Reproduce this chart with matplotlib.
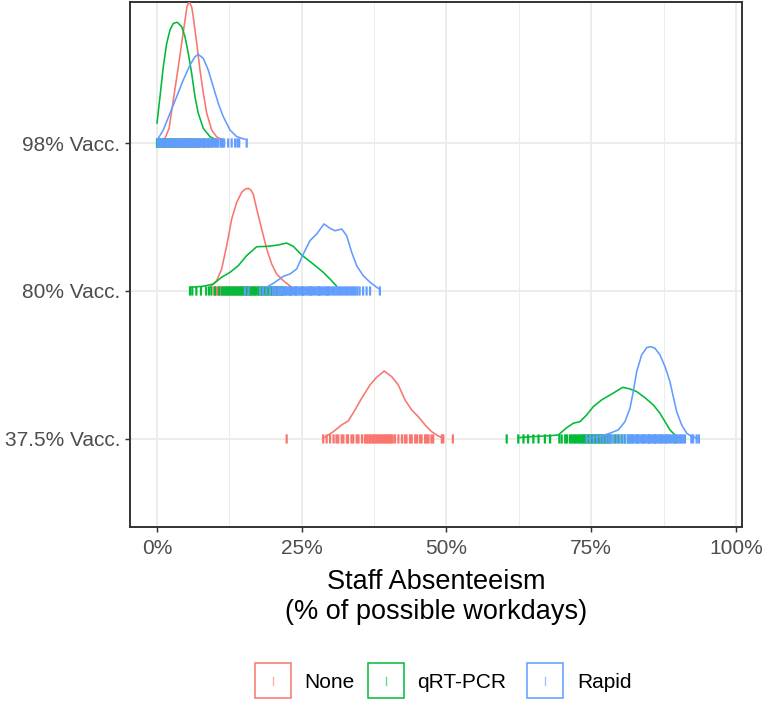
import matplotlib
matplotlib.use("Agg")
import matplotlib.pyplot as plt
from matplotlib.patches import Rectangle
from matplotlib.lines import Line2D

plt.rcParams['font.family'] = ['Liberation Sans', 'DejaVu Sans']

# ---------------- data ----------------
levels = ["37.5% Vacc.", "80% Vacc.", "98% Vacc."]
groups = ["None", "qRT-PCR", "Rapid"]
colors = {"None": "#F8766D", "qRT-PCR": "#00BA38", "Rapid": "#619CFF"}
x_ticks = [0, 25, 50, 75, 100]
x_tick_labels = ["0%", "25%", "50%", "75%", "100%"]
x_minor = [12.5, 37.5, 62.5, 87.5]

# density curves (x in % of workdays, scaled ridge height) and rug samples
none_98_x = [0.86, 1.38, 2.1, 2.82, 3.68, 4.27, 4.84, 5.2, 5.58, 6.0, 6.27, 6.86, 7.43, 8.00, 8.58, 9.45, 10.31, 11.45]
none_98_d = [0.007, 0.032, 0.10, 0.291, 0.514, 0.676, 0.831, 0.925, 0.953, 0.919, 0.851, 0.676, 0.493, 0.338, 0.203, 0.088, 0.041, 0.020]
none_98_rug = [1.2, 2.0, 2.6, 3.1, 3.5, 3.9, 4.3, 4.6, 4.9, 5.2, 5.5, 5.8, 6.1, 6.4, 6.8, 7.2, 7.7, 8.2, 8.8, 9.5, 10.3, 11.2]

qpcr_98_x = [0.0, 0.52, 1.09, 1.68, 2.25, 2.82, 3.51, 4.27, 4.84, 5.41, 5.99, 6.56, 7.13, 8.00, 9.15, 10.31]
qpcr_98_d = [0.133, 0.313, 0.516, 0.674, 0.764, 0.809, 0.816, 0.786, 0.718, 0.606, 0.471, 0.313, 0.201, 0.099, 0.043, 0.020]
qpcr_98_rug = [0.0, 0.2, 0.5, 0.8, 1.0, 1.2, 1.4, 1.7, 1.95, 2.3, 2.6, 3.1, 3.5, 4.0, 4.4, 4.9, 5.4, 6.0, 6.6, 7.3, 8.1, 9.0]

rapid_98_x = [0.05, 1.09, 2.25, 3.40, 4.54, 5.70, 6.56, 7.13, 8.00, 8.86, 9.72, 10.59, 11.45, 12.61, 13.77, 15.20]
rapid_98_d = [0.020, 0.088, 0.201, 0.313, 0.426, 0.527, 0.583, 0.599, 0.572, 0.493, 0.380, 0.268, 0.178, 0.088, 0.043, 0.025]
rapid_98_rug = [0.1, 0.4, 0.7, 1.0, 1.3, 1.6, 1.9, 2.2, 2.5, 2.8, 3.0, 3.3, 3.6, 3.9, 4.2, 4.5, 4.8, 5.0,
                5.3, 5.6, 5.9, 6.2, 6.5, 6.8, 7.0, 7.3, 7.6, 7.9, 8.2, 8.5, 8.8, 9.1, 9.4, 9.7, 10.0, 10.3,
                10.6, 11.0, 11.3, 11.6, 12.3, 12.9, 13.5, 13.9, 14.2, 15.5]

none_80_x = [9.15, 10.31, 11.17, 12.04, 12.90, 13.77, 14.63, 15.2, 15.77, 16.2, 16.63, 17.22, 18.08, 18.95, 19.81, 20.67, 21.81, 23.26]
none_80_d = [0.025, 0.070, 0.149, 0.306, 0.486, 0.599, 0.667, 0.688, 0.694, 0.683, 0.655, 0.554, 0.419, 0.284, 0.182, 0.115, 0.070, 0.025]
none_80_rug = [9.9, 10.2, 10.5, 10.8, 11.1, 11.5, 11.9, 12.3, 12.7, 13.1, 13.5, 13.9, 14.3, 14.7, 15.1, 15.5,
               16.0, 16.5, 17.0, 17.6, 18.2, 18.9, 19.7, 20.6, 21.7, 23.0]

qpcr_80_x = [5.70, 8.00, 9.72, 11.17, 12.61, 14.04, 15.49, 17.22, 19.22, 20.95, 22.40, 23.54, 24.99, 26.99, 28.72, 29.88, 31.04]
qpcr_80_d = [0.025, 0.032, 0.047, 0.093, 0.126, 0.171, 0.239, 0.299, 0.302, 0.311, 0.324, 0.302, 0.243, 0.182, 0.126, 0.081, 0.032]
qpcr_80_rug = [5.7, 6.1, 6.8, 7.6, 8.5, 9.0, 9.4, 10.0, 10.7, 11.2, 11.5, 11.8, 12.1, 12.4, 12.7, 13.0, 13.3,
               13.6, 13.9, 14.2, 14.5, 14.8, 15.1, 15.4, 15.7, 16.0, 16.3, 16.6, 16.9, 17.2, 17.5, 17.8, 18.1,
               18.4, 18.7, 19.0, 19.3, 19.6, 19.9, 20.2, 20.5, 20.8, 21.1, 21.4, 21.7, 22.2, 23.0, 24.0, 25.2,
               26.5, 28.0, 29.5]

rapid_80_x = [18.95, 20.38, 21.81, 22.97, 24.13, 25.27, 26.42, 27.58, 28.84, 29.88, 30.74, 31.90, 32.76, 33.63, 34.49, 35.63, 36.79, 38.3]
rapid_80_d = [0.025, 0.059, 0.099, 0.115, 0.149, 0.250, 0.340, 0.385, 0.453, 0.424, 0.407, 0.419, 0.374, 0.261, 0.171, 0.103, 0.059, 0.015]
rapid_80_rug = [15.2, 15.8, 17.8, 18.3, 18.9, 19.5, 20.0, 20.4, 20.8, 21.1, 21.4, 21.7, 22.0, 22.3, 22.6, 22.9,
                23.2, 23.5, 23.8, 24.1, 24.4, 24.7, 25.0, 25.3, 25.6, 25.9, 26.2, 26.5, 26.8, 27.1, 27.4, 27.7,
                28.0, 28.3, 28.6, 28.9, 29.2, 29.5, 29.8, 30.1, 30.4, 30.7, 31.0, 31.3, 31.6, 31.9, 32.2, 32.5,
                32.8, 33.1, 33.4, 33.7, 34.0, 34.3, 34.6, 35.0, 35.6, 36.2, 36.8, 38.5]

none_37_x = [28.72, 30.45, 31.90, 33.04, 34.20, 35.35, 36.79, 37.94, 39.26, 40.54, 41.68, 42.83, 43.99, 45.13, 46.29, 47.44, 48.58, 49.45]
none_37_d = [0.005, 0.049, 0.095, 0.122, 0.196, 0.275, 0.365, 0.417, 0.459, 0.421, 0.365, 0.264, 0.196, 0.151, 0.095, 0.049, 0.020, 0.005]
none_37_rug = [22.4, 28.7, 29.3, 29.9, 30.5, 31.0, 31.3, 31.9, 32.2, 32.8, 33.0, 33.6, 33.9, 34.5, 34.8, 35.4,
               35.9, 36.2, 36.4, 36.7, 36.9, 37.2, 37.4, 37.7, 37.9, 38.2, 38.4, 38.7, 38.9, 39.2, 39.4, 39.7,
               39.9, 40.2, 40.4, 40.7, 41.1, 41.7, 42.3, 42.8, 43.1, 43.7, 44.0, 44.6, 44.9, 45.4, 45.7, 46.3,
               46.6, 46.9, 47.4, 47.7, 49.2, 49.45, 51.1]

qpcr_37_x = [62.40, 64.99, 67.88, 69.31, 70.76, 71.90, 73.06, 74.21, 75.35, 76.80, 78.24, 79.40, 80.43, 81.69, 82.85, 84.28, 85.72, 86.87, 87.74, 88.60, 89.46, 90.33]
qpcr_37_d = [0.009, 0.016, 0.022, 0.027, 0.076, 0.106, 0.117, 0.162, 0.218, 0.264, 0.297, 0.324, 0.349, 0.338, 0.320, 0.279, 0.230, 0.174, 0.117, 0.061, 0.027, 0.009]
qpcr_37_rug = [60.4, 62.4, 63.3, 64.1, 65.0, 65.9, 67.0, 67.9, 69.5, 69.9, 70.5, 70.8, 71.3, 71.6, 71.9, 72.2,
               72.5, 72.8, 73.1, 73.35, 73.6, 73.85, 74.1, 74.35, 74.6, 74.85, 75.1, 75.35, 75.6, 75.85, 76.1,
               76.35, 76.6, 76.85, 77.1, 77.35, 77.6, 77.85, 78.1, 78.5, 79.1, 79.7, 80.3, 80.8, 81.4, 82.0,
               83.0, 84.0, 85.0, 86.0, 87.0, 88.0, 89.5]

rapid_37_x = [74.21, 76.51, 78.24, 79.67, 80.83, 81.69, 82.26, 82.85, 83.71, 84.58, 85.27, 86.01, 86.87, 87.74, 88.60, 89.17, 89.76, 90.62, 91.49, 92.35, 93.49]
rapid_37_d = [0.0, 0.016, 0.039, 0.061, 0.117, 0.207, 0.320, 0.455, 0.568, 0.617, 0.624, 0.613, 0.568, 0.489, 0.387, 0.286, 0.184, 0.095, 0.039, 0.016, 0.005]
rapid_37_rug = [74.2, 74.8, 75.4, 76.0, 76.6, 77.1, 77.6, 78.0, 78.4, 78.9, 79.4, 79.9, 80.4, 80.9, 81.4, 81.7,
                82.0, 82.3, 82.6, 82.9, 83.2, 83.5, 83.8, 84.1, 84.4, 84.7, 85.0, 85.3, 85.6, 85.9, 86.2, 86.5,
                86.8, 87.1, 87.4, 87.7, 88.0, 88.3, 88.6, 88.9, 89.2, 89.5, 89.8, 90.1, 90.4, 90.6, 90.9, 91.2,
                92.3, 92.6, 93.2, 93.6]

series = {
    ("98% Vacc.", "None"): (none_98_x, none_98_d, none_98_rug),
    ("98% Vacc.", "qRT-PCR"): (qpcr_98_x, qpcr_98_d, qpcr_98_rug),
    ("98% Vacc.", "Rapid"): (rapid_98_x, rapid_98_d, rapid_98_rug),
    ("80% Vacc.", "None"): (none_80_x, none_80_d, none_80_rug),
    ("80% Vacc.", "qRT-PCR"): (qpcr_80_x, qpcr_80_d, qpcr_80_rug),
    ("80% Vacc.", "Rapid"): (rapid_80_x, rapid_80_d, rapid_80_rug),
    ("37.5% Vacc.", "None"): (none_37_x, none_37_d, none_37_rug),
    ("37.5% Vacc.", "qRT-PCR"): (qpcr_37_x, qpcr_37_d, qpcr_37_rug),
    ("37.5% Vacc.", "Rapid"): (rapid_37_x, rapid_37_d, rapid_37_rug),
}

# ---------------- figure ----------------
W, H = 762, 701
fig = plt.figure(figsize=(W / 100, H / 100), dpi=100)
ax = fig.add_axes([130 / W, 1 - 527 / H, (742 - 130) / W, (527 - 2) / H])

for i, lev in enumerate(levels):
    base = i + 1
    for g in groups:
        xs, ds, rug = series[(lev, g)]
        c = colors[g]
        ax.plot(xs, [base + d for d in ds], color=c, lw=1.15, solid_joinstyle='round',
                solid_capstyle='round', zorder=3)
        rl = ax.vlines(rug, base - 0.031, base + 0.031, colors=c, lw=1.6, alpha=1.0, zorder=3)
        rl.set_snap(False)

ax.set_xlim(-4.66, 101.04)
ax.set_ylim(0.405, 3.953)
ax.set_xticks(x_ticks)
ax.set_xticklabels(x_tick_labels)
ax.set_xticks(x_minor, minor=True)
ax.set_yticks([1, 2, 3])
ax.set_yticklabels(levels)

ax.set_axisbelow(True)
ax.grid(True, which='major', color='#EBEBEB', lw=1.3)
ax.grid(True, which='minor', axis='x', color='#EBEBEB', lw=0.65)
ax.tick_params(which='minor', length=0)
ax.tick_params(which='major', length=3.5, width=1.05, color='#333333',
               labelsize=15, labelcolor='#4D4D4D')
ax.tick_params(axis='x', which='major', pad=5)
ax.tick_params(axis='y', which='major', pad=3.5)
for s in ax.spines.values():
    s.set_color('#333333')
    s.set_linewidth(1.4)

ax.set_xlabel("Staff Absenteeism\n(% of possible workdays)", fontsize=19.5,
              color='black', labelpad=8, linespacing=1.2)

# legend (manual, bottom)
leg_items = [("None", 255, 304), ("qRT-PCR", 368, 417), ("Rapid", 527, 577)]
for g, bx, tx in leg_items:
    c = colors[g]
    fig.add_artist(Rectangle((bx / W, 1 - 698 / H), 36 / W, 35 / H, transform=fig.transFigure,
                             facecolor='white', edgecolor=c, lw=1.1))
    cx = (bx + 18) / W
    fig.add_artist(Line2D([cx, cx], [1 - 685 / H, 1 - 677 / H], transform=fig.transFigure,
                          color=c, lw=0.95, alpha=0.6))
    fig.text(tx / W, 1 - 682 / H, g, fontsize=15, color='black', ha='left', va='center')

fig.savefig("out.png", dpi=100)
